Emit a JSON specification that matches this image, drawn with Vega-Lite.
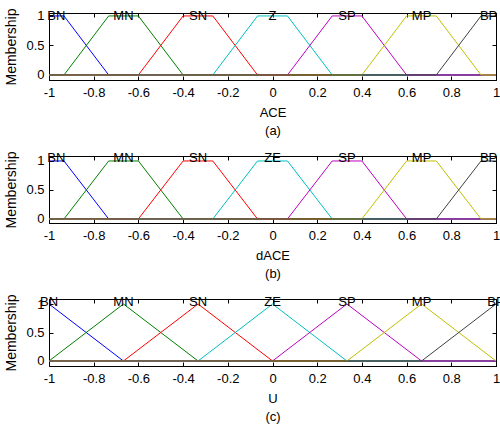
{
  "$schema": "https://vega.github.io/schema/vega-lite/v6.json",
  "padding": {"left": 4, "top": 7, "right": 2, "bottom": 2},
  "spacing": 76,
  "bounds": "flush",
  "config": {
    "font": "Liberation Sans",
    "view": {"stroke": "black", "strokeWidth": 1},
    "axis": {
      "grid": false,
      "domain": true,
      "domainColor": "black",
      "tickColor": "black",
      "tickSize": -4,
      "labelFontSize": 13,
      "labelColor": "black",
      "labelPadding": 10,
      "titleFontSize": 13,
      "titleFontWeight": "normal",
      "titleColor": "black",
      "labelFlush": false,
      "labelOverlap": false
    },
    "axisY": {"labelPadding": 9, "titleFontSize": 14, "titlePadding": 7},
    "text": {"font": "Liberation Sans", "fontSize": 13, "color": "black"}
  },
  "datasets": {
    "mf": [
      {"p":"a","m":"BN","x":-1,"y":1},{"p":"a","m":"BN","x":-0.933,"y":1},{"p":"a","m":"BN","x":-0.733,"y":0},{"p":"a","m":"BN","x":1,"y":0},
      {"p":"a","m":"MN","x":-1,"y":0},{"p":"a","m":"MN","x":-0.933,"y":0},{"p":"a","m":"MN","x":-0.733,"y":1},{"p":"a","m":"MN","x":-0.6,"y":1},{"p":"a","m":"MN","x":-0.4,"y":0},{"p":"a","m":"MN","x":1,"y":0},
      {"p":"a","m":"SN","x":-1,"y":0},{"p":"a","m":"SN","x":-0.6,"y":0},{"p":"a","m":"SN","x":-0.4,"y":1},{"p":"a","m":"SN","x":-0.267,"y":1},{"p":"a","m":"SN","x":-0.067,"y":0},{"p":"a","m":"SN","x":1,"y":0},
      {"p":"a","m":"Z","x":-1,"y":0},{"p":"a","m":"Z","x":-0.267,"y":0},{"p":"a","m":"Z","x":-0.067,"y":1},{"p":"a","m":"Z","x":0.067,"y":1},{"p":"a","m":"Z","x":0.267,"y":0},{"p":"a","m":"Z","x":1,"y":0},
      {"p":"a","m":"SP","x":-1,"y":0},{"p":"a","m":"SP","x":0.067,"y":0},{"p":"a","m":"SP","x":0.267,"y":1},{"p":"a","m":"SP","x":0.4,"y":1},{"p":"a","m":"SP","x":0.6,"y":0},{"p":"a","m":"SP","x":1,"y":0},
      {"p":"a","m":"MP","x":-1,"y":0},{"p":"a","m":"MP","x":0.4,"y":0},{"p":"a","m":"MP","x":0.6,"y":1},{"p":"a","m":"MP","x":0.733,"y":1},{"p":"a","m":"MP","x":0.933,"y":0},{"p":"a","m":"MP","x":1,"y":0},
      {"p":"a","m":"BP","x":-1,"y":0},{"p":"a","m":"BP","x":0.733,"y":0},{"p":"a","m":"BP","x":0.933,"y":1},{"p":"a","m":"BP","x":1,"y":1},

      {"p":"b","m":"BN","x":-1,"y":1},{"p":"b","m":"BN","x":-0.933,"y":1},{"p":"b","m":"BN","x":-0.733,"y":0},{"p":"b","m":"BN","x":1,"y":0},
      {"p":"b","m":"MN","x":-1,"y":0},{"p":"b","m":"MN","x":-0.933,"y":0},{"p":"b","m":"MN","x":-0.733,"y":1},{"p":"b","m":"MN","x":-0.6,"y":1},{"p":"b","m":"MN","x":-0.4,"y":0},{"p":"b","m":"MN","x":1,"y":0},
      {"p":"b","m":"SN","x":-1,"y":0},{"p":"b","m":"SN","x":-0.6,"y":0},{"p":"b","m":"SN","x":-0.4,"y":1},{"p":"b","m":"SN","x":-0.267,"y":1},{"p":"b","m":"SN","x":-0.067,"y":0},{"p":"b","m":"SN","x":1,"y":0},
      {"p":"b","m":"ZE","x":-1,"y":0},{"p":"b","m":"ZE","x":-0.267,"y":0},{"p":"b","m":"ZE","x":-0.067,"y":1},{"p":"b","m":"ZE","x":0.067,"y":1},{"p":"b","m":"ZE","x":0.267,"y":0},{"p":"b","m":"ZE","x":1,"y":0},
      {"p":"b","m":"SP","x":-1,"y":0},{"p":"b","m":"SP","x":0.067,"y":0},{"p":"b","m":"SP","x":0.267,"y":1},{"p":"b","m":"SP","x":0.4,"y":1},{"p":"b","m":"SP","x":0.6,"y":0},{"p":"b","m":"SP","x":1,"y":0},
      {"p":"b","m":"MP","x":-1,"y":0},{"p":"b","m":"MP","x":0.4,"y":0},{"p":"b","m":"MP","x":0.6,"y":1},{"p":"b","m":"MP","x":0.733,"y":1},{"p":"b","m":"MP","x":0.933,"y":0},{"p":"b","m":"MP","x":1,"y":0},
      {"p":"b","m":"BP","x":-1,"y":0},{"p":"b","m":"BP","x":0.733,"y":0},{"p":"b","m":"BP","x":0.933,"y":1},{"p":"b","m":"BP","x":1,"y":1},

      {"p":"c","m":"BN","x":-1,"y":1},{"p":"c","m":"BN","x":-0.667,"y":0},{"p":"c","m":"BN","x":1,"y":0},
      {"p":"c","m":"MN","x":-1,"y":0},{"p":"c","m":"MN","x":-0.667,"y":1},{"p":"c","m":"MN","x":-0.333,"y":0},{"p":"c","m":"MN","x":1,"y":0},
      {"p":"c","m":"SN","x":-1,"y":0},{"p":"c","m":"SN","x":-0.667,"y":0},{"p":"c","m":"SN","x":-0.333,"y":1},{"p":"c","m":"SN","x":0,"y":0},{"p":"c","m":"SN","x":1,"y":0},
      {"p":"c","m":"ZE","x":-1,"y":0},{"p":"c","m":"ZE","x":-0.333,"y":0},{"p":"c","m":"ZE","x":0,"y":1},{"p":"c","m":"ZE","x":0.333,"y":0},{"p":"c","m":"ZE","x":1,"y":0},
      {"p":"c","m":"SP","x":-1,"y":0},{"p":"c","m":"SP","x":0,"y":0},{"p":"c","m":"SP","x":0.333,"y":1},{"p":"c","m":"SP","x":0.667,"y":0},{"p":"c","m":"SP","x":1,"y":0},
      {"p":"c","m":"MP","x":-1,"y":0},{"p":"c","m":"MP","x":0.333,"y":0},{"p":"c","m":"MP","x":0.667,"y":1},{"p":"c","m":"MP","x":1,"y":0},
      {"p":"c","m":"BP","x":-1,"y":0},{"p":"c","m":"BP","x":0.667,"y":0},{"p":"c","m":"BP","x":1,"y":1}
    ],
    "lab": [
      {"p":"a","m":"BN","x":-0.967},{"p":"a","m":"MN","x":-0.667},{"p":"a","m":"SN","x":-0.333},{"p":"a","m":"Z","x":0},{"p":"a","m":"SP","x":0.333},{"p":"a","m":"MP","x":0.667},{"p":"a","m":"BP","x":0.967},
      {"p":"b","m":"BN","x":-0.967},{"p":"b","m":"MN","x":-0.667},{"p":"b","m":"SN","x":-0.333},{"p":"b","m":"ZE","x":0},{"p":"b","m":"SP","x":0.333},{"p":"b","m":"MP","x":0.667},{"p":"b","m":"BP","x":0.967},
      {"p":"c","m":"BN","x":-1},{"p":"c","m":"MN","x":-0.667},{"p":"c","m":"SN","x":-0.333},{"p":"c","m":"ZE","x":0},{"p":"c","m":"SP","x":0.333},{"p":"c","m":"MP","x":0.667},{"p":"c","m":"BP","x":1}
    ]
  },
  "vconcat": [
    {
      "width": 447, "height": 67,
      "layer": [
        {
          "data": {"name": "mf"},
          "transform": [{"filter": "datum.p == 'a'"}],
          "mark": {"type": "line", "strokeWidth": 1},
          "encoding": {
            "x": {"field": "x", "type": "quantitative", "scale": {"domain": [-1, 1], "nice": false, "zero": false},
                  "axis": {"orient": "bottom", "values": [-1,-0.8,-0.6,-0.4,-0.2,0,0.2,0.4,0.6,0.8,1], "labelExpr": "'' + datum.value", "title": ["ACE", "(a)"], "titleLineHeight": 18, "titlePadding": 7}},
            "y": {"field": "y", "type": "quantitative", "scale": {"domain": [-0.085, 1.05], "nice": false, "zero": false},
                  "axis": {"orient": "left", "values": [0, 0.5, 1], "labelExpr": "'' + datum.value", "title": "Membership"}},
            "color": {"field": "m", "type": "nominal", "legend": null,
                      "scale": {"domain": ["BN","MN","SN","Z","ZE","SP","MP","BP"], "range": ["#0000ff","#008000","#ff0000","#00bfbf","#00bfbf","#bf00bf","#bfbf00","#404040"]}}
          }
        },
        {
          "data": {"name": "lab"},
          "transform": [{"filter": "datum.p == 'a'"}],
          "mark": {"type": "text", "baseline": "middle", "align": "center"},
          "encoding": {
            "x": {"field": "x", "type": "quantitative", "axis": {"orient": "top", "values": [-1,-0.8,-0.6,-0.4,-0.2,0,0.2,0.4,0.6,0.8,1], "labels": false, "title": null}},
            "y": {"datum": 1.0, "type": "quantitative", "axis": {"orient": "right", "values": [0, 0.5, 1], "labels": false, "title": null}},
            "text": {"field": "m"}
          }
        }
      ]
    },
    {
      "width": 447, "height": 67,
      "layer": [
        {
          "data": {"name": "mf"},
          "transform": [{"filter": "datum.p == 'b'"}],
          "mark": {"type": "line", "strokeWidth": 1},
          "encoding": {
            "x": {"field": "x", "type": "quantitative", "scale": {"domain": [-1, 1], "nice": false, "zero": false},
                  "axis": {"orient": "bottom", "values": [-1,-0.8,-0.6,-0.4,-0.2,0,0.2,0.4,0.6,0.8,1], "labelExpr": "'' + datum.value", "title": ["dACE", "(b)"], "titleLineHeight": 18, "titlePadding": 7}},
            "y": {"field": "y", "type": "quantitative", "scale": {"domain": [-0.07, 1.086], "nice": false, "zero": false},
                  "axis": {"orient": "left", "values": [0, 0.5, 1], "labelExpr": "'' + datum.value", "title": "Membership"}},
            "color": {"field": "m", "type": "nominal", "legend": null,
                      "scale": {"domain": ["BN","MN","SN","Z","ZE","SP","MP","BP"], "range": ["#0000ff","#008000","#ff0000","#00bfbf","#00bfbf","#bf00bf","#bfbf00","#404040"]}}
          }
        },
        {
          "data": {"name": "lab"},
          "transform": [{"filter": "datum.p == 'b'"}],
          "mark": {"type": "text", "baseline": "middle", "align": "center"},
          "encoding": {
            "x": {"field": "x", "type": "quantitative", "axis": {"orient": "top", "values": [-1,-0.8,-0.6,-0.4,-0.2,0,0.2,0.4,0.6,0.8,1], "labels": false, "title": null}},
            "y": {"datum": 1.06, "type": "quantitative", "axis": {"orient": "right", "values": [0, 0.5, 1], "labels": false, "title": null}},
            "text": {"field": "m"}
          }
        }
      ]
    },
    {
      "width": 447, "height": 67,
      "layer": [
        {
          "data": {"name": "mf"},
          "transform": [{"filter": "datum.p == 'c'"}],
          "mark": {"type": "line", "strokeWidth": 1},
          "encoding": {
            "x": {"field": "x", "type": "quantitative", "scale": {"domain": [-1, 1], "nice": false, "zero": false},
                  "axis": {"orient": "bottom", "values": [-1,-0.8,-0.6,-0.4,-0.2,0,0.2,0.4,0.6,0.8,1], "labelExpr": "'' + datum.value", "title": ["U", "(c)"], "titleLineHeight": 18, "titlePadding": 7}},
            "y": {"field": "y", "type": "quantitative", "scale": {"domain": [-0.088, 1.088], "nice": false, "zero": false},
                  "axis": {"orient": "left", "values": [0, 0.5, 1], "labelExpr": "'' + datum.value", "title": "Membership"}},
            "color": {"field": "m", "type": "nominal", "legend": null,
                      "scale": {"domain": ["BN","MN","SN","Z","ZE","SP","MP","BP"], "range": ["#0000ff","#008000","#ff0000","#00bfbf","#00bfbf","#bf00bf","#bfbf00","#404040"]}}
          }
        },
        {
          "data": {"name": "lab"},
          "transform": [{"filter": "datum.p == 'c'"}],
          "mark": {"type": "text", "baseline": "middle", "align": "center"},
          "encoding": {
            "x": {"field": "x", "type": "quantitative", "axis": {"orient": "top", "values": [-1,-0.8,-0.6,-0.4,-0.2,0,0.2,0.4,0.6,0.8,1], "labels": false, "title": null}},
            "y": {"datum": 1.03, "type": "quantitative", "axis": {"orient": "right", "values": [0, 0.5, 1], "labels": false, "title": null}},
            "text": {"field": "m"}
          }
        }
      ]
    }
  ]
}
